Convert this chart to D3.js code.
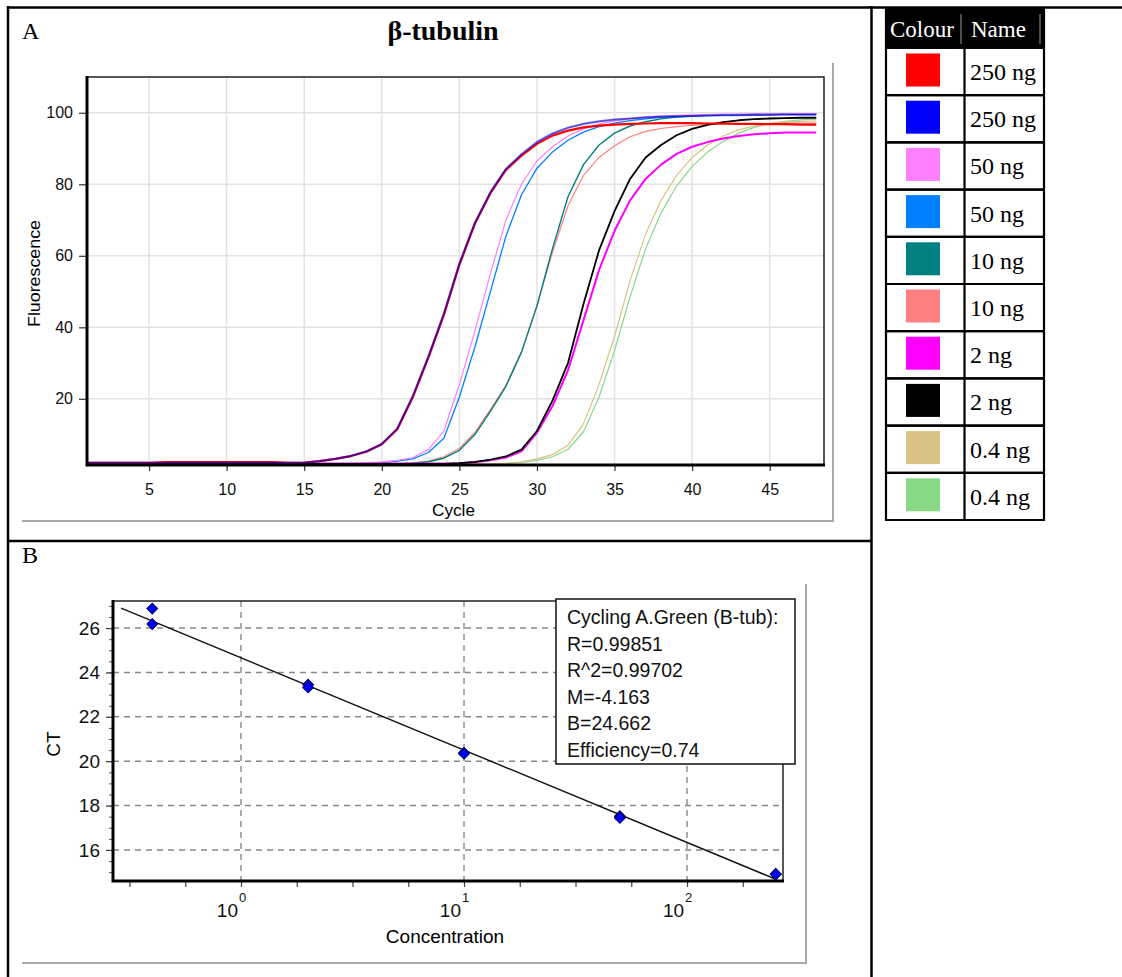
<!DOCTYPE html>
<html><head><meta charset="utf-8">
<script src="https://cdn.jsdelivr.net/npm/d3@7"></script>
<style>
html,body{margin:0;padding:0;background:#fff;}
svg{display:block;}
</style></head><body>
<svg id="c" width="1122" height="977"></svg>
<script>
// ---------- DATA ----------
const cyclesA = [1,2,3,4,5,6,7,8,9,10,11,12,13,14,15,16,17,18,19,20,21,22,23,24,25,26,27,28,29,30,31,32,33,34,35,36,37,38,39,40,41,42,43,44,45,46,47,48];
const red250 = [2.1,2.1,2.1,2.1,2.1,2.3,2.3,2.3,2.3,2.3,2.3,2.3,2.3,2.1,2.2,2.6,3.2,4.0,5.2,7.3,11.5,20.5,31.5,43.5,57.5,69,77.5,84,88,91.3,93.6,95.0,95.9,96.4,96.7,96.9,97.0,97.1,97.1,97.1,97.0,97.0,96.9,96.9,96.8,96.8,96.7,96.7];
const blue250 = [2.1,2.1,2.1,2.1,2.1,2.1,2.1,2.1,2.1,2.1,2.1,2.1,2.1,2.1,2.1,2.6,3.2,4.0,5.3,7.4,11.7,20.8,31.8,43.8,57.8,69.2,77.8,84.3,88.4,91.8,94.2,95.8,96.9,97.6,98.1,98.4,98.7,98.9,99.0,99.1,99.2,99.3,99.3,99.4,99.4,99.5,99.5,99.5];
const pink50 = [1.9,1.9,1.9,1.9,1.9,1.9,1.9,1.9,1.9,1.9,1.9,1.9,1.9,1.9,1.9,1.9,1.9,1.9,2.1,2.4,2.8,3.6,5.8,11,24,39,55,70,80,86.5,90.5,93.5,95.5,96.8,97.7,98.3,98.8,99.1,99.3,99.4,99.5,99.6,99.6,99.7,99.7,99.7,99.8,99.8];
const lblue50 = [1.9,1.9,1.9,1.9,1.9,1.9,1.9,1.9,1.9,1.9,1.9,1.9,1.9,1.9,1.9,1.9,1.9,1.9,2.0,2.2,2.6,3.2,5.0,9.0,20.5,34.5,50,65.5,77,84.5,89,92.3,94.6,96.1,97.1,97.8,98.3,98.7,99.0,99.2,99.3,99.4,99.4,99.5,99.5,99.6,99.6,99.6];
const teal10 = [1.8,1.8,1.8,1.8,1.8,1.8,1.8,1.8,1.8,1.8,1.8,1.8,1.8,1.8,1.8,1.8,1.8,1.8,1.8,1.8,1.8,2.0,2.4,3.4,5.6,10,16.5,23.5,33,46,62,76.5,85.5,91,94.3,96.3,97.5,98.3,98.8,99.1,99.3,99.4,99.5,99.5,99.6,99.6,99.6,99.6];
const salmon10 = [1.8,1.8,1.8,1.8,1.8,1.8,1.8,1.8,1.8,1.8,1.8,1.8,1.8,1.8,1.8,1.8,1.8,1.8,1.8,1.8,1.8,2.1,2.6,3.8,6.2,10.6,17,23.8,33.2,46,61,74,82.5,87.5,90.8,93.3,94.8,95.6,96.1,96.5,96.7,96.8,96.9,97.0,97.0,97.1,97.1,97.1];
const mag2 = [1.9,1.9,1.9,1.9,1.9,1.9,1.9,1.9,1.9,1.9,1.9,1.9,1.9,1.9,1.9,1.9,1.9,1.9,1.9,1.9,1.9,1.9,1.9,1.9,2.0,2.3,2.8,3.6,5.3,10.5,18,28,42,56,67,75.5,81.5,85.5,88.5,90.5,91.8,92.8,93.5,94.0,94.3,94.5,94.5,94.5];
const black2 = [1.8,1.8,1.8,1.8,1.8,1.8,1.8,1.8,1.8,1.8,1.8,1.8,1.8,1.8,1.8,1.8,1.8,1.8,1.8,1.8,1.8,1.8,1.8,1.8,2.0,2.4,3.0,3.9,5.8,11,19.5,30,46.5,61.5,72.5,81.5,87.5,91,93.7,95.5,96.6,97.4,97.9,98.2,98.4,98.5,98.6,98.6];
const khaki04 = [1.8,1.8,1.8,1.8,1.8,1.8,1.8,1.8,1.8,1.8,1.8,1.8,1.8,1.8,1.8,1.8,1.8,1.8,1.8,1.8,1.8,1.8,1.8,1.8,1.8,1.8,1.8,2.0,2.4,3.2,4.4,7.0,13,24,37.5,53,66,75.5,82.5,87.5,91,93.5,95.2,96.3,97.0,97.4,97.6,97.7];
const green04 = [1.7,1.7,1.7,1.7,1.7,1.7,1.7,1.7,1.7,1.7,1.7,1.7,1.7,1.7,1.7,1.7,1.7,1.7,1.7,1.7,1.7,1.7,1.7,1.7,1.7,1.7,1.7,1.9,2.2,2.8,3.8,5.9,10.8,20.5,33.5,48.5,62,72,79.5,85,89,92,94.3,95.9,97.0,97.6,98.0,98.2];

const legendNames = ["250 ng","250 ng","50 ng","50 ng","10 ng","10 ng","2 ng","2 ng","0.4 ng","0.4 ng"];
const legendColors = ["#ff0000","#0000ff","#ff80ff","#0080ff","#008080","#ff8080","#ff00ff","#000000","#d8c384","#88d888"];

const xTicksA = [5,10,15,20,25,30,35,40,45];
const yTicksA = [20,40,60,80,100];

const concB = [0.4,0.4,2,2,10,10,50,50,250,250];
const ctB = [26.88,26.18,23.45,23.32,20.38,20.34,17.52,17.44,14.92,14.9];
const yTicksB = [16,18,20,22,24,26];
const yMinorB = [15,15.5,16,16.5,17,17.5,18,18.5,19,19.5,20,20.5,21,21.5,22,22.5,23,23.5,24,24.5,25,25.5,26,26.5,27];
const xDecadesB = [1,10,100];
const xDecadeExp = ["0","1","2"];
const xMinorExpB = [-0.5,-0.25,0,0.25,0.5,0.75,1,1.25,1.5,1.75,2,2.25];
const fitM = -4.163, fitB = 24.662;
const fitRange = [0.29, 250];
const statsLines = ["Cycling A.Green (B-tub):","R=0.99851","R^2=0.99702","M=-4.163","B=24.662","Efficiency=0.74"];

// ---------- DRAW ----------
const svg = d3.select("#c");
const SANS = "'Liberation Sans', Arial, sans-serif";
const SERIF = "'Liberation Serif', 'Times New Roman', serif";
svg.append("rect").attr("width",1122).attr("height",977).attr("fill","#fff");

const frame = svg.append("g").attr("stroke","#000").attr("stroke-width",2.5);
frame.append("line").attr("x1",7).attr("x2",1122).attr("y1",7.5).attr("y2",7.5);
frame.append("line").attr("x1",8).attr("x2",8).attr("y1",6).attr("y2",977);
frame.append("line").attr("x1",871.5).attr("x2",871.5).attr("y1",6).attr("y2",977);
frame.append("line").attr("x1",8).attr("x2",871.5).attr("y1",541).attr("y2",541);

// ===== Panel A =====
svg.append("text").attr("x",22).attr("y",39).attr("font-family",SERIF).attr("font-size",24).text("A");
svg.append("text").attr("x",443).attr("y",40).attr("text-anchor","middle").attr("font-family",SERIF)
  .attr("font-size",28).attr("font-weight","bold").text("β-tubulin");

svg.append("path").attr("d","M22,521H833V63").attr("fill","none").attr("stroke","#a8a8a8").attr("stroke-width",2);

const xA = d3.scaleLinear().domain([1,48.5]).range([87,824]);
const yA = d3.scaleLinear().domain([1.5,110]).range([465,77]);

const gA = svg.append("g");
gA.selectAll(".vg").data(xTicksA).join("line").attr("x1",d=>xA(d)).attr("x2",d=>xA(d))
  .attr("y1",77).attr("y2",465).attr("stroke","#e3e3e3").attr("stroke-width",1.5);
gA.selectAll(".hg").data(yTicksA).join("line").attr("class","hg").attr("y1",d=>yA(d)).attr("y2",d=>yA(d))
  .attr("x1",87).attr("x2",824).attr("stroke","#e3e3e3").attr("stroke-width",1.5);

const axA_x = gA.append("g").attr("transform","translate(0,465)")
  .call(d3.axisBottom(xA).tickValues(xTicksA).tickSize(6).tickPadding(13));
const axA_y = gA.append("g").attr("transform","translate(87,0)")
  .call(d3.axisLeft(yA).tickValues(yTicksA).tickSize(8).tickPadding(6));
[axA_x, axA_y].forEach(a=>{
  a.select(".domain").remove();
  a.selectAll("line").attr("stroke","#333").attr("stroke-width",1.2);
  a.selectAll("text").attr("font-family",SANS).attr("font-size",16).attr("fill","#111");
});

svg.append("clipPath").attr("id","clipA").append("rect").attr("x",87).attr("y",77).attr("width",737).attr("height",388);
const lineA = d3.line().x((d,i)=>xA(cyclesA[i])).y(d=>yA(d));
const seriesA = [
  {v:green04, c:legendColors[9], w:1.2, o:1},
  {v:khaki04, c:legendColors[8], w:1.2, o:1},
  {v:salmon10, c:legendColors[5], w:1.2, o:1},
  {v:teal10, c:legendColors[4], w:1.4, o:1},
  {v:lblue50, c:legendColors[3], w:1.3, o:1},
  {v:pink50, c:legendColors[2], w:1.2, o:1},
  {v:mag2, c:legendColors[6], w:2, o:1},
  {v:black2, c:legendColors[7], w:1.8, o:1},
  {v:red250, c:legendColors[0], w:2.2, o:1},
  {v:blue250, c:legendColors[1], w:2.2, o:0.55}
];
const curves = gA.append("g").attr("clip-path","url(#clipA)");
curves.selectAll("path").data(seriesA).join("path")
  .attr("d",d=>lineA(d.v)).attr("fill","none").attr("stroke",d=>d.c).attr("stroke-width",d=>d.w)
  .attr("stroke-opacity",d=>d.o).attr("stroke-linejoin","round");
curves.append("path").attr("d",lineA(blue250)).attr("fill","none").attr("stroke","#200030")
  .attr("stroke-width",1).attr("stroke-opacity",0.35);

gA.append("path").attr("d","M87,77H824V465").attr("fill","none").attr("stroke","#222").attr("stroke-width",1.5);
gA.append("path").attr("d","M87,76V465H825").attr("fill","none").attr("stroke","#000").attr("stroke-width",3);

gA.append("text").attr("x",453.5).attr("y",516).attr("text-anchor","middle").attr("font-family",SANS).attr("font-size",16)
  .attr("textLength",43).attr("lengthAdjust","spacingAndGlyphs").text("Cycle");
gA.append("text").attr("transform","translate(40,273.5) rotate(-90)").attr("text-anchor","middle")
  .attr("font-family",SANS).attr("font-size",16).attr("textLength",107).attr("lengthAdjust","spacingAndGlyphs").text("Fluorescence");

// ===== Legend table =====
const lg = svg.append("g");
const rowTop = i => 48 + i*47.2;
lg.append("rect").attr("x",886).attr("y",7).attr("width",158).attr("height",41).attr("fill","#000");
lg.append("line").attr("x1",961).attr("x2",961).attr("y1",14).attr("y2",44).attr("stroke","#999").attr("stroke-width",1);
lg.append("line").attr("x1",1040).attr("x2",1040).attr("y1",14).attr("y2",44).attr("stroke","#999").attr("stroke-width",1);
lg.append("text").attr("x",890).attr("y",37).attr("fill","#fff").attr("font-family",SERIF).attr("font-size",23).text("Colour");
lg.append("text").attr("x",971).attr("y",37).attr("fill","#fff").attr("font-family",SERIF).attr("font-size",23).text("Name");
lg.selectAll(".sw").data(legendColors).join("rect").attr("x",906).attr("y",(d,i)=>rowTop(i)+5.5)
  .attr("width",34).attr("height",33).attr("fill",d=>d);
lg.selectAll(".nm").data(legendNames).join("text").attr("x",970).attr("y",(d,i)=>rowTop(i)+32)
  .attr("font-family",SERIF).attr("font-size",24).attr("fill","#000").text(d=>d);
const lgLines = lg.append("g").attr("stroke","#000").attr("stroke-width",2.2);
legendNames.forEach((d,i)=>{
  lgLines.append("line").attr("x1",886).attr("x2",1044).attr("y1",rowTop(i+1)).attr("y2",rowTop(i+1));
  lgLines.append("line").attr("x1",886).attr("x2",1044).attr("y1",rowTop(i)).attr("y2",rowTop(i));
});
lgLines.append("line").attr("x1",886).attr("x2",886).attr("y1",7).attr("y2",rowTop(10)+1);
lgLines.append("line").attr("x1",1044).attr("x2",1044).attr("y1",7).attr("y2",rowTop(10)+1);
lgLines.append("line").attr("x1",964.5).attr("x2",964.5).attr("y1",48).attr("y2",rowTop(10));

// ===== Panel B =====
svg.append("text").attr("x",22).attr("y",563).attr("font-family",SERIF).attr("font-size",24).text("B");
svg.append("path").attr("d","M22,963H806V584").attr("fill","none").attr("stroke","#a8a8a8").attr("stroke-width",2);

const xB = d3.scaleLog().domain([0.2667,269.4]).range([113,783]);
const yB = d3.scaleLinear().domain([14.6,27.22]).range([881,601]);
const gB = svg.append("g");

gB.selectAll(".hgb").data(yTicksB).join("line").attr("class","hgb").attr("x1",113).attr("x2",783)
  .attr("y1",d=>yB(d)).attr("y2",d=>yB(d)).attr("stroke","#888").attr("stroke-width",1.4).attr("stroke-dasharray","6,5");
gB.selectAll(".vgb").data(xDecadesB).join("line").attr("class","vgb").attr("y1",601).attr("y2",881)
  .attr("x1",d=>xB(d)).attr("x2",d=>xB(d)).attr("stroke","#888").attr("stroke-width",1.4).attr("stroke-dasharray","6,5");

const axB_y = gB.append("g").attr("transform","translate(113,0)")
  .call(d3.axisLeft(yB).tickValues(yTicksB).tickSize(7).tickPadding(6));
axB_y.select(".domain").remove();
axB_y.selectAll("line").attr("stroke","#333").attr("stroke-width",1.2);
axB_y.selectAll("text").attr("font-family",SANS).attr("font-size",19).attr("fill","#111");
gB.append("g").attr("transform","translate(113,0)")
  .call(d3.axisLeft(yB).tickValues(yMinorB).tickSize(4).tickFormat(""))
  .call(a=>{a.select(".domain").remove(); a.selectAll("line").attr("stroke","#555").attr("stroke-width",1);});
gB.append("g").attr("transform","translate(0,881)")
  .call(d3.axisBottom(xB).tickValues(xMinorExpB.map(e=>Math.pow(10,e))).tickSize(6).tickFormat(""))
  .call(a=>{a.select(".domain").remove(); a.selectAll("line").attr("stroke","#444").attr("stroke-width",1.2);});
// x labels 10^k : base and exponent side by side (exponent raised)
gB.selectAll(".xlb").data(xDecadesB).join("text").attr("class","xlb")
  .attr("x",d=>xB(d)-3).attr("y",917).attr("text-anchor","end").attr("font-family",SANS)
  .attr("font-size",19).attr("fill","#111").text("10");
gB.selectAll(".xle").data(xDecadesB).join("text").attr("class","xle")
  .attr("x",d=>xB(d)-2).attr("y",902).attr("text-anchor","start").attr("font-family",SANS)
  .attr("font-size",13).attr("fill","#111").text((d,i)=>xDecadeExp[i]);

const fitLine = d3.line().x(d=>xB(d)).y(d=>yB(fitM*Math.log10(d)+fitB));
gB.append("path").attr("d",fitLine(fitRange)).attr("fill","none").attr("stroke","#111").attr("stroke-width",1.4);

gB.selectAll(".pt").data(concB).join("path").attr("class","pt")
  .attr("d",d3.symbol().type(d3.symbolSquare).size(58))
  .attr("transform",(d,i)=>`translate(${xB(d)},${yB(ctB[i])}) rotate(45)`)
  .attr("fill","#0000ff").attr("stroke","#000055").attr("stroke-width",1);

gB.append("path").attr("d","M113,601H783V881").attr("fill","none").attr("stroke","#222").attr("stroke-width",1.5);
gB.append("path").attr("d","M113,600V881H784").attr("fill","none").attr("stroke","#000").attr("stroke-width",3);

gB.append("rect").attr("x",556).attr("y",599).attr("width",239).attr("height",165).attr("fill","#fff")
  .attr("stroke","#111").attr("stroke-width",1.5);
gB.selectAll(".st").data(statsLines).join("text").attr("class","st").attr("x",567).attr("y",(d,i)=>624+i*26.6)
  .attr("font-family",SANS).attr("font-size",19.5).attr("fill","#111").text(d=>d);

gB.append("text").attr("x",445).attr("y",943).attr("text-anchor","middle").attr("font-family",SANS).attr("font-size",19).text("Concentration");
gB.append("text").attr("transform","translate(60,744) rotate(-90)").attr("text-anchor","middle")
  .attr("font-family",SANS).attr("font-size",19).text("CT");
</script></body></html>
